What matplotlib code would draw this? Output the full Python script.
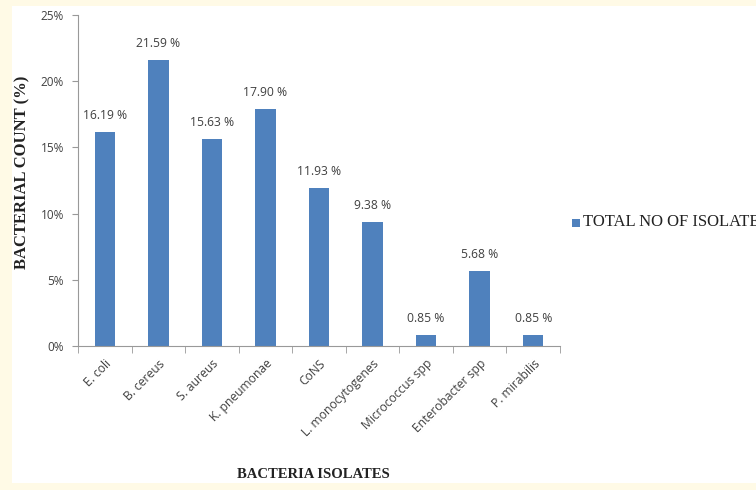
import numpy as np
import matplotlib
matplotlib.use("Agg")
import matplotlib.pyplot as plt
from matplotlib.patches import Rectangle

isolates = ["E. coli", "B. cereus", "S. aureus", "K. pneumonae", "CoNS",
            "L. monocytogenes", "Micrococcus spp", "Enterobacter spp", "P. mirabilis"]
percent = [16.19, 21.59, 15.63, 17.90, 11.93, 9.38, 0.85, 5.68, 0.85]
yticks = [0, 5, 10, 15, 20, 25]
series_name = "TOTAL NO OF ISOLATE"

bar_color = "#4f81bd"
text_gray = "#404040"
sans = ["Open Sans", "DejaVu Sans"]
serif = ["Liberation Serif", "DejaVu Serif"]

fig = plt.figure(figsize=(7.56, 4.90), dpi=100)
fig.patch.set_facecolor("#fffae6")
# white chart area on the cream page
fig.patches.append(Rectangle((12 / 756, 1 - 483 / 490), 1, (483 - 6) / 490,
                             transform=fig.transFigure, facecolor="white",
                             edgecolor="none", zorder=-5))

ax = fig.add_axes([78 / 756, 1 - 346 / 490, (560 - 78) / 756, (346 - 15) / 490])
ax.set_facecolor("none")

x = np.arange(len(isolates))
ax.bar(x, percent, width=0.38, color=bar_color, zorder=2)
for xi, v in zip(x, percent):
    ax.annotate(f"{v:.2f} %", (xi, v), xytext=(0, 7), textcoords="offset points",
                ha="center", va="bottom", fontsize=8.7, color=text_gray, family=sans)

ax.set_xlim(-0.5, len(isolates) - 0.5)
ax.set_ylim(0, 25)
ax.set_yticks(yticks)
ax.set_yticklabels([f"{t}%" for t in yticks], family=sans, fontsize=8.5, color=text_gray)

ax.set_xticks(x)
ax.set_xticklabels(isolates, rotation=45, ha="right", rotation_mode="anchor",
                   family=sans, fontsize=8.7, color=text_gray)
ax.set_xticks(np.arange(-0.5, len(isolates)), minor=True)
ax.tick_params(axis="x", which="major", length=0, pad=8)
ax.tick_params(axis="x", which="minor", length=5, color="#999999", direction="out")
ax.tick_params(axis="y", length=4, color="#999999", direction="out", pad=6)

for side in ["top", "right"]:
    ax.spines[side].set_visible(False)
ax.spines["left"].set_color("#999999")
ax.spines["bottom"].set_color("#999999")

fig.text(22 / 756, 1 - 172 / 490, "BACTERIAL COUNT (%)", rotation=90, ha="center",
         va="center", family=serif, fontweight="bold", fontsize=12, color="#222222")
fig.text(313 / 756, 1 - 474 / 490, "BACTERIA ISOLATES", ha="center", va="center",
         family=serif, fontweight="bold", fontsize=10.5, color="#222222")

# legend entry, running off the right edge
fig.patches.append(Rectangle((572 / 756, 1 - 227 / 490), 8 / 756, 8 / 490,
                             transform=fig.transFigure, facecolor=bar_color,
                             edgecolor="none"))
fig.text(583 / 756, 1 - 222.5 / 490, series_name, ha="left", va="center",
         family=serif, fontsize=12, color="#222222")

fig.savefig("out.png", dpi=100, facecolor=fig.get_facecolor())
